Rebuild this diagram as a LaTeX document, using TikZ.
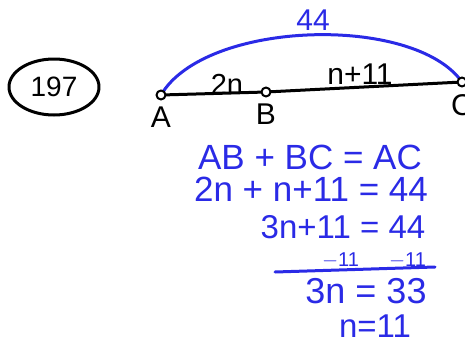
\documentclass[tikz,border=0pt]{standalone}
\usepackage{fontspec}
\setmainfont{Liberation Sans}
\usetikzlibrary{positioning, shapes.geometric}
\definecolor{pen}{HTML}{2A2AE6}
\tikzset{
  every picture/.style={line width=3pt, line cap=round, line join=round},
  dot/.style={circle, draw, fill=white, line width=2pt, inner sep=0pt, minimum size=9pt},
  lbl/.style={font=\fontsize{30}{30}\selectfont, inner sep=1pt},
  eq/.style={text=pen, font=\fontsize{35}{35}\selectfont, inner sep=0pt},
  small eq/.style={text=pen, font=\fontsize{20}{20}\selectfont, inner sep=0pt},
}

\begin{document}
\begin{tikzpicture}[x=1pt, y=-1pt]
  \useasboundingbox (0,0) rectangle (465,345);
  % problem number
  \node[draw, ellipse, minimum width=90pt, minimum height=56pt, font=\fontsize{28}{28}\selectfont] (num) at (54,87) {197};
  % segment AC
  \coordinate (a) at (161,95);
  \coordinate (b) at (266,92);
  \coordinate (c) at (462,82);
  \draw (a) -- (b) -- (c);
  \draw[pen] (a) .. controls (205,20) and (414,14) .. (c);
  \node[dot] (A) at (a) {};
  \node[dot] (B) at (b) {};
  \node[dot] (C) at (c) {};
  \node[lbl, below=4pt of A] (Alab) {A};
  \node[lbl, below=4pt of B] (Blab) {B};
  \node[lbl, below=5pt of C] (Clab) {C};
  \node[lbl, font=\fontsize{29}{29}\selectfont] (AB) at (227,84) {2n};
  \node[lbl] (BC) at (360,74) {n+11};
  \node[lbl, text=pen] (AC) at (313,20) {44};
  % working
  \node[eq] (eq1) at (310,157) {AB + BC = AC};
  \node[eq] (eq2) at (311,189) {2n + n+11 = 44};
  \node[eq, font=\fontsize{33}{33}\selectfont] (eq3) at (343,227) {3n+11 = 44};
  \node[small eq] (eq4) at (374,260) {$-$11\hspace{30pt}$-$11};
  \draw[pen] (275,272) -- (435,267);
  \node[eq, font=\fontsize{36}{36}\selectfont] (eq5) at (366,291) {3n = 33};
  \node[eq, font=\fontsize{33}{33}\selectfont] (eq6) at (375,326) {n=11};
\end{tikzpicture}
\end{document}
